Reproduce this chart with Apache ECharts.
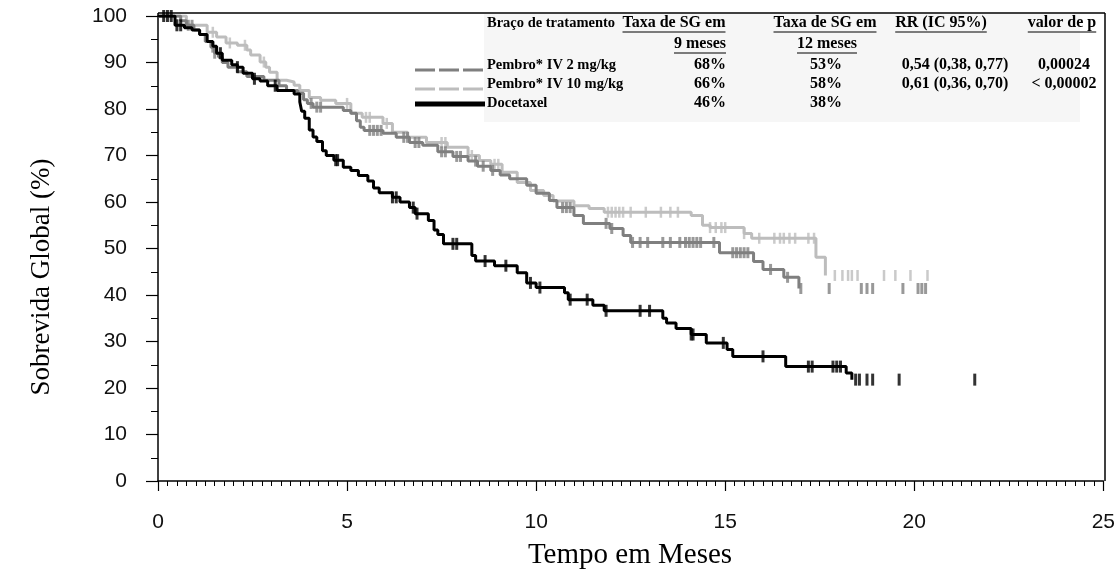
<!DOCTYPE html>
<html><head><meta charset="utf-8">
<script src="https://cdn.jsdelivr.net/npm/echarts@6/dist/echarts.min.js"></script>
<style>html,body{margin:0;padding:0;background:#fff}#c{width:1118px;height:571px}</style>
</head><body><div id="c"></div>
<script>
// ---- data (time in months, overall survival %) ----
const pembro2Curve = [[0,100],[0.6,99],[0.75,98],[0.95,97],[1.1,96],[1.25,94.5],[1.4,93.3],[1.5,92],[1.6,91.2],[1.7,90],[1.85,89],[2.1,88],[2.35,87],[2.8,86.2],[3.2,85],[3.4,84],[3.7,83.4],[3.85,82],[3.95,81.2],[4.1,80.4],[4.9,79.7],[5.1,79.1],[5.25,77.5],[5.35,76.1],[5.45,75.4],[5.95,74.8],[6.3,73.9],[6.65,72.8],[7.0,72.2],[7.4,70.8],[7.8,69.8],[8.2,68.8],[8.45,67.7],[8.8,66.8],[9.05,65.8],[9.3,65],[9.75,63.6],[10.0,61.9],[10.35,60.3],[10.55,58.8],[11.0,57.1],[11.25,55.4],[11.95,54.3],[12.3,52.8],[12.5,51.3],[14.85,49.1],[15.75,47.2],[16.0,45.5],[16.55,43.8],[16.95,41.4]];
const pembro10Curve = [[0,100],[0.75,98],[1.3,96.5],[1.55,95.5],[1.8,94.2],[2.1,93.7],[2.35,92.7],[2.45,91.6],[2.7,90.1],[2.85,89],[2.95,87.9],[3.15,86.2],[3.4,85.8],[3.6,85.1],[3.75,84],[4.0,82.5],[4.3,81.9],[4.7,81.2],[5.1,79.1],[5.4,78.2],[5.95,76.9],[6.2,75],[6.6,73.9],[7.1,72.8],[7.65,71.8],[8.2,70],[8.5,68.9],[8.8,68.1],[9.1,66.4],[9.5,64.2],[9.85,62.5],[10.2,61.4],[10.45,60.2],[11.0,59.2],[11.4,58.6],[11.8,57.8],[14.1,57.1],[14.4,55],[14.6,54.5],[15.5,53.2],[15.7,52.2],[17.4,48.1],[17.65,44.2]];
const docetaxelCurve = [[0,100],[0.45,98],[0.7,97.5],[0.9,97],[1.1,96],[1.3,94.5],[1.45,93.5],[1.55,92],[1.7,90.5],[1.95,89.5],[2.1,89],[2.25,87.7],[2.5,86.5],[2.7,86],[2.9,85],[3.15,84],[3.6,83.2],[3.75,81.5],[3.8,79.5],[3.88,78],[4.0,75.5],[4.1,74],[4.2,73],[4.35,71],[4.45,70],[4.65,69],[4.9,67.5],[5.1,66.8],[5.3,65.7],[5.55,64.5],[5.7,63],[5.85,62],[6.2,61],[6.4,60],[6.65,58.8],[6.8,57.5],[7.15,56],[7.3,54],[7.4,53],[7.55,51],[8.3,48.5],[8.4,47.3],[8.9,46.3],[9.5,44.8],[9.75,42.6],[10.0,41.6],[10.75,40.5],[10.85,39],[11.5,37.8],[11.8,36.6],[13.35,35],[13.45,34],[13.7,32.8],[14.1,31.5],[14.5,29.7],[15.05,28.3],[15.2,26.8],[16.6,24.6],[18.2,23.2],[18.35,21.8]];

const pembro2CensorT = [0.8,0.9,1.45,1.5,4.05,4.2,4.3,5.6,5.7,5.8,5.9,6.5,6.6,6.8,6.9,7.5,7.6,7.9,8.0,8.4,8.6,8.85,10.7,10.8,10.9,11.85,12.0,12.55,12.75,12.95,13.35,13.55,13.8,13.95,14.05,14.15,14.25,14.35,14.7,15.2,15.3,15.4,15.5,15.6,16.2,16.65,17.0,17.75,18.6,18.75,18.9,19.7,20.1,20.2,20.3];
const pembro10CensorT = [1.45,1.9,2.3,2.8,5.0,5.5,5.6,6.05,7.5,7.6,8.3,8.9,9.0,11.9,12.0,12.1,12.2,12.3,12.5,12.9,13.3,13.55,13.75,14.6,14.75,14.9,15.0,15.5,15.9,16.3,16.45,16.55,16.7,16.85,17.2,17.35,17.9,18.1,18.25,18.35,18.5,19.2,19.5,19.9,20.35];
const docetaxelCensorT = [0.15,0.25,0.35,0.5,0.6,1.65,2.1,2.55,3.1,4.7,4.75,6.2,6.3,6.75,6.85,7.8,7.9,8.65,9.2,9.85,10.1,10.9,11.35,11.85,12.75,13.0,14.1,14.15,14.95,16.0,17.2,17.3,17.85,17.95,18.05,18.45,18.55,18.75,18.9,19.6,21.6];

const armNames = ['Pembro* IV 2 mg/kg','Pembro* IV 10 mg/kg','Docetaxel'];
const os9 = ['68%','66%','46%'];
const os12 = ['53%','58%','38%'];
const hrCI = ['0,54 (0,38, 0,77)','0,61 (0,36, 0,70)',''];
const pValues = ['0,00024','< 0,00002',''];
const tableHeaders = ['Braço de tratamento','Taxa de SG em','9 meses','Taxa de SG em','12 meses','RR (IC 95%)','valor de p'];
const xTitle = 'Tempo em Meses';
const yTitle = 'Sobrevida Global (%)';

// ---- helpers ----
function survAt(curve, t){ let s = curve[0][1]; for (const p of curve){ if (p[0] <= t) s = p[1]; } return s; }
function censorPoints(curve, times){ return times.map(t => [t, survAt(curve, t)]); }

const C_DARK = '#7f7f7f', C_LIGHT = '#bdbdbd', C_BLACK = '#000000';
const fontName = 'bold 14.5px "Liberation Serif"';
const fontCol = 'bold 16px "Liberation Serif"';
const mctx = document.createElement('canvas').getContext('2d');
function tw(txt, font){ mctx.font = font; return mctx.measureText(txt).width; }

const graphics = [];
graphics.push({type:'rect', shape:{x:484,y:14,width:596,height:108}, style:{fill:'#f6f6f6'}, z:0, silent:true});
graphics.push({type:'line', shape:{x1:158,y1:13,x2:1105,y2:13}, style:{stroke:'#000',lineWidth:1.5}, z:10});
graphics.push({type:'line', shape:{x1:1105,y1:13,x2:1105,y2:481}, style:{stroke:'#000',lineWidth:1.5}, z:10});
graphics.push({type:'line', shape:{x1:158,y1:13,x2:158,y2:17}, style:{stroke:'#000',lineWidth:1.5}, z:10});

function addText(txt, x, y, align, underline, font){
  graphics.push({type:'text', x:x, y:y, z:20, style:{text:txt, font:font, fill:'#000', align:align, verticalAlign:'middle'}});
  if (underline){
    const w = tw(txt, font);
    const x0 = align === 'center' ? x - w/2 : x;
    graphics.push({type:'line', z:20, shape:{x1:x0,y1:y+9,x2:x0+w,y2:y+9}, style:{stroke:'#000',lineWidth:1}});
  }
}
const hdrY = 23, hdr2Y = 44;
addText(tableHeaders[0], 487, hdrY, 'left', false, fontName);
addText(tableHeaders[1], 674, hdrY, 'center', true, fontCol);
addText(tableHeaders[2], 700, hdr2Y, 'center', true, fontCol);
addText(tableHeaders[3], 825, hdrY, 'center', true, fontCol);
addText(tableHeaders[4], 827, hdr2Y, 'center', true, fontCol);
addText(tableHeaders[5], 941, hdrY, 'center', true, fontCol);
addText(tableHeaders[6], 1062, hdrY, 'center', true, fontCol);
const rowY = [65, 84, 103];
for (let i = 0; i < armNames.length; i++){
  addText(armNames[i], 487, rowY[i], 'left', false, fontName);
  addText(os9[i], 710, rowY[i], 'center', false, fontCol);
  addText(os12[i], 826, rowY[i], 'center', false, fontCol);
  if (hrCI[i]) addText(hrCI[i], 955, rowY[i], 'center', false, fontCol);
  if (pValues[i]) addText(pValues[i], 1064, rowY[i], 'center', false, fontCol);
}
graphics.push({type:'line', z:20, shape:{x1:415,y1:70,x2:485,y2:70}, style:{stroke:C_DARK,lineWidth:3,lineDash:[20,4]}});
graphics.push({type:'line', z:20, shape:{x1:415,y1:89,x2:485,y2:89}, style:{stroke:C_LIGHT,lineWidth:3,lineDash:[20,4]}});
graphics.push({type:'line', z:20, shape:{x1:415,y1:104,x2:485,y2:104}, style:{stroke:C_BLACK,lineWidth:5}});
graphics.push({type:'text', x:630, y:555, style:{text:xTitle, font:'29px "Liberation Serif"', fill:'#000', align:'center', verticalAlign:'middle'}});
graphics.push({type:'text', x:42, y:277, rotation:Math.PI/2, style:{text:yTitle, font:'27px "Liberation Serif"', fill:'#000', align:'center', verticalAlign:'middle'}});

function curveSeries(name, data, color, w, z){
  return {name, type:'line', data, step:'end', showSymbol:false, symbol:'none', z, lineStyle:{color, width:w}, itemStyle:{color}, silent:true};
}
function censorSeries(name, data, color, size, z){
  return {name:name+' censor', type:'scatter', data, symbol:'rect', symbolSize:size, z, itemStyle:{color}, silent:true};
}

const chart = echarts.init(document.getElementById('c'), null, {renderer:'canvas'});
chart.setOption({
  animation:false,
  backgroundColor:'#fff',
  grid:{left:158, right:13, top:16, bottom:90, containLabel:false},
  xAxis:{type:'value', min:0, max:25, interval:5,
    axisLine:{show:true, lineStyle:{color:'#000', width:1.5}},
    axisTick:{show:true, length:10, lineStyle:{color:'#000', width:1.2}},
    minorTick:{show:true, splitNumber:20, length:5, lineStyle:{color:'#000', width:1}},
    splitLine:{show:false}, minorSplitLine:{show:false},
    axisLabel:{fontSize:21, fontFamily:'Liberation Sans', color:'#111', margin:31}},
  yAxis:{type:'value', min:0, max:100, interval:10,
    axisLine:{show:true, lineStyle:{color:'#000', width:1.5}},
    axisTick:{show:true, length:12, lineStyle:{color:'#000', width:1.2}},
    minorTick:{show:true, splitNumber:2, length:7, lineStyle:{color:'#000', width:1}},
    splitLine:{show:false}, minorSplitLine:{show:false},
    axisLabel:{fontSize:21, fontFamily:'Liberation Sans', color:'#111', margin:31}},
  series:[
    curveSeries('Pembro* IV 10 mg/kg', pembro10Curve, C_LIGHT, 3, 2),
    censorSeries('Pembro* IV 10 mg/kg', censorPoints(pembro10Curve, pembro10CensorT), C_LIGHT, [2.5, 11], 2),
    curveSeries('Pembro* IV 2 mg/kg', pembro2Curve, C_DARK, 3, 3),
    censorSeries('Pembro* IV 2 mg/kg', censorPoints(pembro2Curve, pembro2CensorT), C_DARK, [3, 11], 3),
    curveSeries('Docetaxel', docetaxelCurve, C_BLACK, 3, 4),
    censorSeries('Docetaxel', censorPoints(docetaxelCurve, docetaxelCensorT), C_BLACK, [3, 12], 4)
  ],
  graphic:{elements:graphics}
});
</script></body></html>
